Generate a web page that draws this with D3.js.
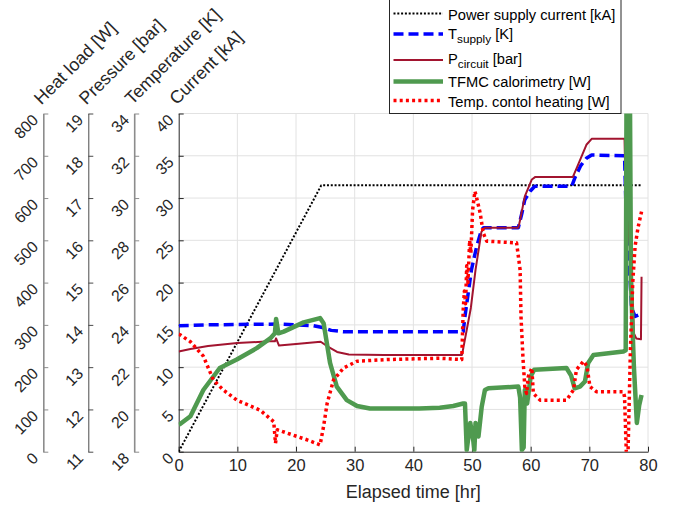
<!DOCTYPE html>
<html>
<head>
<meta charset="utf-8">
<script src="https://cdn.jsdelivr.net/npm/d3@7"></script>
<style>
  body { margin: 0; background: #fff; }
  svg { font-family: 'Liberation Sans', Arial, sans-serif; }
</style>
</head>
<body>
<div id="graf"></div>
<script>
// ---- data ----
// power supply current [kA]
tCorriente = [0, 24.3, 78.9]
corriente = [0, 31.5, 31.5]

// T supply [K]
tTemp = [0, 5, 10, 17, 23, 24.5, 26, 28, 48.5, 48.8, 49.9, 50.8, 51.65, 52, 57.9, 58.5, 59, 59.9, 60.7,
         67, 67.6, 68.5, 69.5, 70.4, 76, 76.2, 77.2, 77.8, 78.5]
temperatura = [23.96, 24.0, 24.02, 24.04, 23.96, 23.88, 23.74, 23.68, 23.68, 24.4, 26.6, 27.72, 28.52, 28.6, 28.6,
               29.28, 29.92, 30.32, 30.56, 30.56, 31.0, 31.52, 31.88, 32.04, 32.0, 30.0, 24.8, 24.4, 24.48]

// P circuit [bar]
tPres = [0, 2, 5, 10, 15.5, 16.4, 16.6, 17.1, 20, 24.2, 25.5, 27, 29, 35, 48.3, 49.8, 50.6, 51.6, 52.2, 57.9,
         58.2, 59, 60.2, 60.8, 67.2, 68, 69.5, 70.4, 76, 76.2, 77.2, 77.6, 78, 78.8, 78.9]
presion = [13.37, 13.43, 13.5, 13.57, 13.61, 13.61, 13.68, 13.51, 13.55, 13.6, 13.48, 13.36, 13.3, 13.29, 13.29,
           14.4, 15.3, 16.2, 16.3, 16.3, 16.48, 17.04, 17.44, 17.5, 17.5, 17.76, 18.26, 18.4, 18.4, 17.0, 15.4,
           13.8, 13.68, 13.66, 15.14]

// TFMC calorimetry [W]
tCalor = [0, 0.3, 2, 4.2, 7, 9.9, 13.3, 15.6, 16.4, 16.6, 17, 17.9, 21.3, 24.1, 24.7, 25.8, 26.95, 28.65, 30.4,
          32.6, 41, 44.5, 46.8, 48.5, 48.8, 49.1, 49.7, 50.2, 50.4, 50.6, 51.1, 51.65, 52.2, 52.8, 57.9, 58.2,
          58.5, 58.8, 59, 59.4, 60, 60.6, 66.1, 66.9, 67.5, 68.4, 69.25, 69.8, 70.7, 75.8, 76.2, 76.35, 76.9,
          77.1, 77.6, 78.1, 78.5, 78.9]
calorimetria = [64, 66, 84, 146, 198, 218, 245, 268, 280, 314, 280, 284, 306, 316, 304, 210, 154, 122, 108,
                102, 102, 104, 108, 114, 114, 4, 68, 28, 4, 68, 36, 106, 146, 150, 154, 128,
                4, 10, 146, 114, 178, 194, 198, 180, 150, 154, 166, 210, 229, 237, 240, 900, 900,
                400, 200, 68, 110, 134]

// temp. control heating [W]
tCalef = [0, 0.3, 2, 4.2, 5.9, 7.6, 9.9, 13.9, 16.2, 16.5, 16.8, 18.5, 21.9, 24.1, 24.7, 25.3, 26.4, 28.1, 30.4,
          35.5, 41.1, 44.5, 48.25, 48.5, 48.7, 48.9, 49.1, 49.3, 49.6, 49.8, 50.1, 50.5, 50.8, 51.4, 51.9, 52.5,
          57.6, 58.2, 58.35, 58.7, 59, 59.3, 59.6, 60.2, 60.45, 61.6, 66.1, 67.3, 67.8, 69, 69.6, 70.1, 71.2,
          75.8, 76, 76.3, 76.6, 77, 77.4, 77.8, 78.3, 78.9]
calefaccion = [278, 276, 260, 226, 170, 146, 122, 98, 71, 20, 52, 44, 28, 16, 60, 114, 170, 198, 214,
               218, 220, 221, 218, 336, 380, 350, 440, 400, 500, 470, 572, 616, 600, 564, 518, 498,
               494, 430, 320, 218, 154, 138, 178, 198, 138, 122, 122, 146, 194, 214, 202, 154, 142,
               142, 130, 0, 0, 240, 400, 486, 530, 568]

// ticks of the four y axes
ticksCalor = d3.range(0, 801, 100)
ticksPres = d3.range(11, 20, 1)
ticksTemp = d3.range(18, 35, 2)
ticksCorr = d3.range(0, 41, 5)
ticksX = d3.range(0, 81, 10)

// ---- svg ----
anchoTotal = 680
altoTotal = 507
margen = { superior: 113.5, izquierdo: 178.7, derecho: 32, inferior: 55.3 }
ancho = anchoTotal - margen.izquierdo - margen.derecho
alto = altoTotal - margen.superior - margen.inferior

svg = d3.select('#graf').append('svg')
  .attr('width', anchoTotal)
  .attr('height', altoTotal)

g = svg.append('g')
  .attr('transform', `translate(${margen.izquierdo}, ${margen.superior})`)

// scales: every quantity spans the same vertical pixel range
x = d3.scaleLinear().domain([0, 80]).range([0, ancho])
yCorr = d3.scaleLinear().domain([0, 40]).range([alto, 0])
yTemp = d3.scaleLinear().domain([18, 34]).range([alto, 0])
yPres = d3.scaleLinear().domain([11, 19]).range([alto, 0])
yCalor = d3.scaleLinear().domain([0, 800]).range([alto, 0])

// grid
g.append('g').selectAll('line').data(ticksX.slice(1)).join('line')
  .attr('x1', d => x(d)).attr('x2', d => x(d))
  .attr('y1', 0).attr('y2', alto)
  .attr('stroke', '#e2e2e2')
g.append('g').selectAll('line').data(ticksCorr.slice(1)).join('line')
  .attr('y1', d => yCorr(d)).attr('y2', d => yCorr(d))
  .attr('x1', 0).attr('x2', ancho)
  .attr('stroke', '#e2e2e2')

// y axes: ticks point right, labels rotated on the left
function ejeY(escala, valores, posX, color, grosor) {
  eje = g.append('g').attr('transform', `translate(${posX}, 0)`)
  eje.call(d3.axisRight(escala).tickValues(valores).tickSize(5).tickSizeOuter(0))
  eje.select('.domain').attr('stroke', color).attr('stroke-width', grosor)
  eje.selectAll('.tick line').attr('stroke', color)
  eje.selectAll('.tick text')
    .attr('x', -4).attr('y', 7).attr('dy', null)
    .attr('text-anchor', 'end')
    .attr('transform', 'rotate(-45, -4, 7)')
    .attr('fill', '#262626')
    .style('font-size', '15.8px')
    .style('font-family', "'Liberation Sans', Arial, sans-serif")
  return eje
}

ejeY(yCalor, ticksCalor, -135.4, '#8c8c8c', 1.6)
ejeY(yPres, ticksPres, -90.4, '#4a4a4a', 1)
ejeY(yTemp, ticksTemp, -44.5, '#8c8c8c', 1.6)
ejeY(yCorr, ticksCorr, 0, '#262626', 1)

// rotated axis titles
titulos = [
  { texto: 'Heat load [W]', pos: -135.4 },
  { texto: 'Pressure [bar]', pos: -90.4 },
  { texto: 'Temperature [K]', pos: -44.5 },
  { texto: 'Current [kA]', pos: 0 }
]
titulos.forEach(t => {
  g.append('text')
    .attr('x', t.pos - 2).attr('y', -8)
    .attr('transform', `rotate(-45, ${t.pos - 2}, -8)`)
    .attr('fill', '#262626')
    .style('font-size', '17.8px')
    .text(t.texto)
})

// x axis
ejeX = g.append('g').attr('transform', `translate(0, ${alto})`)
  .call(d3.axisBottom(x).tickValues(ticksX).tickSizeInner(-5).tickSizeOuter(0).tickPadding(8))
ejeX.select('.domain').attr('stroke', '#262626')
ejeX.selectAll('.tick line').attr('stroke', '#262626')
ejeX.selectAll('.tick text')
  .attr('fill', '#262626')
  .style('font-size', '16.5px')
  .style('font-family', "'Liberation Sans', Arial, sans-serif")

g.append('text')
  .attr('x', ancho / 2).attr('y', alto + 46)
  .attr('text-anchor', 'middle')
  .attr('fill', '#262626')
  .style('font-size', '18px')
  .text('Elapsed time [hr]')

// ---- lines ----
g.append('clipPath').attr('id', 'recorte')
  .append('rect').attr('width', ancho).attr('height', alto)

areaLineas = g.append('g').attr('clip-path', 'url(#recorte)')

series = [
  { t: tCorriente, v: corriente, y: yCorr, color: '#000000', ancho: 2, guiones: '2,1.8' },
  { t: tTemp, v: temperatura, y: yTemp, color: '#0000ff', ancho: 3.5, guiones: '10,5' },
  { t: tPres, v: presion, y: yPres, color: '#a2142f', ancho: 2, guiones: null },
  { t: tCalor, v: calorimetria, y: yCalor, color: '#4f9a4f', ancho: 4.5, guiones: null },
  { t: tCalef, v: calefaccion, y: yCalor, color: '#ff0000', ancho: 3.5, guiones: '3,3.2' }
]

series.forEach(s => {
  linea = d3.line().x(d => x(d[0])).y(d => s.y(d[1]))
  areaLineas.append('path')
    .datum(d3.zip(s.t, s.v))
    .attr('fill', 'none')
    .attr('stroke', s.color)
    .attr('stroke-width', s.ancho)
    .attr('stroke-dasharray', s.guiones)
    .attr('stroke-linejoin', 'round')
    .attr('d', linea)
})

// ---- legend ----
leyenda = svg.append('g')
leyenda.append('rect')
  .attr('x', 389.5).attr('y', -1).attr('width', 231.5).attr('height', 114.5)
  .attr('fill', '#fff').attr('stroke', '#262626').attr('stroke-width', 1)

filas = [
  { y: 13.5, base: 19.5 }, { y: 34, base: 38.5 }, { y: 60, base: 63.5 },
  { y: 81.5, base: 87 }, { y: 100.5, base: 107 }
]
textos = [
  ['Power supply current [kA]'],
  ['T', 'supply', ' [K]'],
  ['P', 'circuit', ' [bar]'],
  ['TFMC calorimetry [W]'],
  ['Temp. contol heating [W]']
]
series.forEach((s, i) => {
  leyenda.append('line')
    .attr('x1', 393.5).attr('x2', 443)
    .attr('y1', filas[i].y).attr('y2', filas[i].y)
    .attr('stroke', s.color)
    .attr('stroke-width', s.ancho)
    .attr('stroke-dasharray', s.guiones)
  txt = leyenda.append('text')
    .attr('x', 448).attr('y', filas[i].base)
    .attr('fill', '#000')
    .style('font-size', '14.7px')
  partes = textos[i]
  if (partes.length == 1) {
    txt.text(partes[0])
  } else {
    txt.append('tspan').text(partes[0])
    txt.append('tspan').attr('dy', 4.5).style('font-size', '11.8px').text(partes[1])
    txt.append('tspan').attr('dy', -4.5).text(partes[2])
  }
})
</script>
</body>
</html>
